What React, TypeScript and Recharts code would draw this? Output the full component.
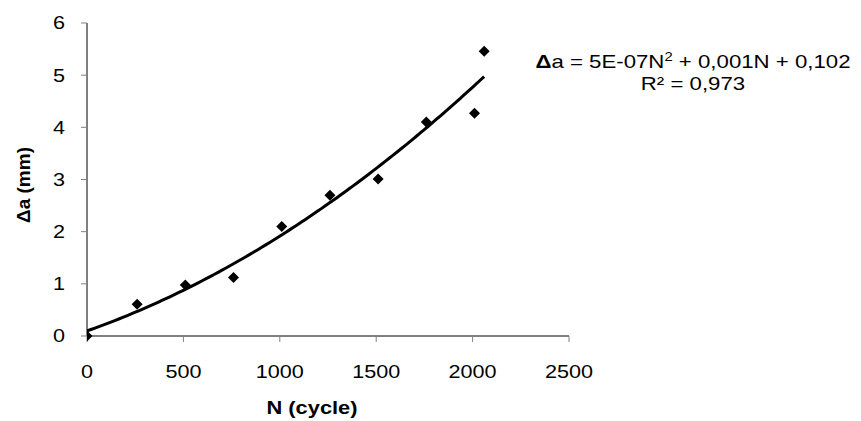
import React from 'react';
import { ComposedChart, Scatter, Line, XAxis, YAxis } from 'recharts';

// Measured data: number of cycles N and crack growth Δa (mm)
const cycles = [0, 260, 510, 760, 1010, 1260, 1510, 1760, 2010, 2060];
const crackGrowth = [0, 0.61, 0.98, 1.12, 2.1, 2.7, 3.01, 4.1, 4.27, 5.46];
const xTicks = [0, 500, 1000, 1500, 2000, 2500];
const yTicks = [0, 1, 2, 3, 4, 5, 6];
const xTitle = 'N (cycle)';
const yTitle = 'Δa (mm)';
const equationLine2 = 'R² = 0,973';

const points = cycles.map((x, i) => ({ x, y: crackGrowth[i] }));

// Least-squares quadratic trendline (as Excel's polynomial trendline, order 2)
function quadFit(xs: number[], ys: number[]) {
  const n = xs.length;
  let s0 = n, s1 = 0, s2 = 0, s3 = 0, s4 = 0, t0 = 0, t1 = 0, t2 = 0;
  for (let i = 0; i < n; i++) {
    const x = xs[i], y = ys[i];
    s1 += x; s2 += x * x; s3 += x * x * x; s4 += x * x * x * x;
    t0 += y; t1 += x * y; t2 += x * x * y;
  }
  const A = [
    [s0, s1, s2, t0],
    [s1, s2, s3, t1],
    [s2, s3, s4, t2],
  ];
  for (let c = 0; c < 3; c++) {
    let p = c;
    for (let r = c + 1; r < 3; r++) if (Math.abs(A[r][c]) > Math.abs(A[p][c])) p = r;
    [A[c], A[p]] = [A[p], A[c]];
    for (let r = 0; r < 3; r++) {
      if (r === c) continue;
      const f = A[r][c] / A[c][c];
      for (let k = c; k < 4; k++) A[r][k] -= f * A[c][k];
    }
  }
  return [A[0][3] / A[0][0], A[1][3] / A[1][1], A[2][3] / A[2][2]];
}

const [a0, a1, a2] = quadFit(cycles, crackGrowth);
const xMin = Math.min(...cycles);
const xMax = Math.max(...cycles);
const trend: { x: number; t: number }[] = [];
for (let k = 0; k <= 100; k++) {
  const x = xMin + ((xMax - xMin) * k) / 100;
  trend.push({ x, t: a0 + a1 * x + a2 * x * x });
}

const FONT = '"Liberation Sans", Arial, sans-serif';
const SX = 1.2;

const XTick = (props: any) => {
  const { x, payload } = props;
  return (
    <text
      transform={`translate(${x},378) scale(${SX},1)`}
      textAnchor="middle"
      fontFamily={FONT}
      fontSize={18}
      fill="#000"
    >
      {payload.value}
    </text>
  );
};

const YTick = (props: any) => {
  const { y, payload } = props;
  return (
    <text
      transform={`translate(65,${y + 6.4}) scale(${SX},1)`}
      textAnchor="end"
      fontFamily={FONT}
      fontSize={18}
      fill="#000"
    >
      {payload.value}
    </text>
  );
};

const Diamond = (props: any) => {
  const { cx, cy } = props;
  const r = 5.5;
  return (
    <polygon
      points={`${cx},${cy - r} ${cx + r},${cy} ${cx},${cy + r} ${cx - r},${cy}`}
      fill="#000"
    />
  );
};

export default function App() {
  return (
    <div style={{ position: 'absolute', left: 0, top: 0, width: 861, height: 421, background: '#fff' }}>
      <ComposedChart
        width={861}
        height={421}
        margin={{ top: 23, right: 292, bottom: 0, left: 0 }}
      >
        <XAxis
          type="number"
          dataKey="x"
          domain={[0, 2500]}
          ticks={xTicks}
          height={85}
          axisLine={{ stroke: '#000', strokeWidth: 1 }}
          tickLine={{ stroke: '#808080' }}
          tickSize={6}
          tick={<XTick />}
          allowDataOverflow
        />
        <YAxis
          type="number"
          domain={[0, 6]}
          ticks={yTicks}
          width={87}
          axisLine={{ stroke: '#000', strokeWidth: 1 }}
          tickLine={{ stroke: '#808080' }}
          tickSize={6}
          tick={<YTick />}
        />
        <Line
          data={trend}
          dataKey="t"
          type="monotone"
          stroke="#000"
          strokeWidth={3}
          dot={false}
          activeDot={false}
          isAnimationActive={false}
        />
        <Scatter
          data={points}
          dataKey="y"
          shape={<Diamond />}
          isAnimationActive={false}
        />
      </ComposedChart>
      <svg
        width={861}
        height={421}
        style={{ position: 'absolute', left: 0, top: 0, pointerEvents: 'none' }}
      >
        <text
          transform={`translate(312,414) scale(1.15,1)`}
          textAnchor="middle"
          fontFamily={FONT}
          fontSize={19}
          fontWeight="bold"
        >
          {xTitle}
        </text>
        <text
          transform="translate(30,185) rotate(-90)"
          textAnchor="middle"
          fontFamily={FONT}
          fontSize={19}
          fontWeight="bold"
        >
          {yTitle}
        </text>
        <text
          transform={`translate(693,68) scale(1.235,1)`}
          textAnchor="middle"
          fontFamily={FONT}
          fontSize={18}
        >
          <tspan fontWeight="bold">Δ</tspan>
          <tspan>a = 5E-07N</tspan>
          <tspan fontSize={12} dy={-7}>2</tspan>
          <tspan dy={7}> + 0,001N + 0,102</tspan>
        </text>
        <text
          transform={`translate(693,90) scale(1.235,1)`}
          textAnchor="middle"
          fontFamily={FONT}
          fontSize={18}
        >
          {equationLine2}
        </text>
      </svg>
    </div>
  );
}
